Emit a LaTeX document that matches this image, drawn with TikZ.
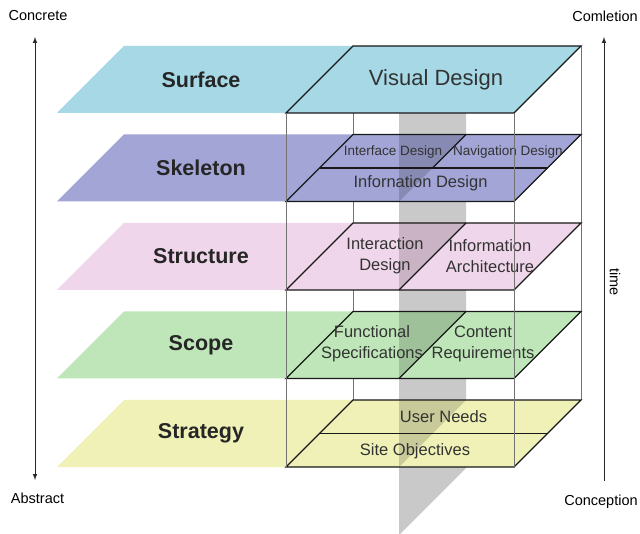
\documentclass[tikz,border=0pt]{standalone}
\usepackage{fontspec}
\setmainfont{Liberation Sans}
\definecolor{surfacecol}{HTML}{A6D8E6}
\definecolor{skeletoncol}{HTML}{A2A5D6}
\definecolor{structurecol}{HTML}{F0D6EA}
\definecolor{scopecol}{HTML}{BEE6B8}
\definecolor{strategycol}{HTML}{EFF1B7}
\definecolor{stripcol}{HTML}{C9C9C9}

\tikzset{
  frame/.style={draw=black!90, line width=1.4pt, line join=miter},
  boxline/.style={draw=black!55, line width=0.8pt},
  shade/.style={fill=black, fill opacity=0.16},
  layername/.style={inner sep=0pt, text=black!85, font=\fontsize{21.5}{24}\selectfont\bfseries},
  big/.style={inner sep=0pt, text=black!80, font=\fontsize{22}{26}\selectfont},
  mid/.style={inner sep=0pt, text=black!80, align=center, font=\fontsize{16.5}{21}\selectfont},
  small/.style={inner sep=0pt, text=black!80, font=\fontsize{13.5}{16}\selectfont},
  side/.style={inner sep=0pt, text=black, font=\fontsize{14.5}{17}\selectfont},
}

\begin{document}
\begin{tikzpicture}[x=1pt,y=-1pt]
\useasboundingbox (0,0) rectangle (640,534);
% strip behind the layers
\fill[stripcol] (399,113) -- (466,113) -- (466,468) -- (400,534) -- (399,534) -- cycle;
% back edges of the box
\path[draw,boxline] (353,113) -- (353,400);
\path[draw,boxline] (581,46) -- (581,400);
\begin{scope}[yshift=-46pt]
\fill[surfacecol] (57,67) -- (124,0) -- (581,0) -- (514,67) -- cycle;
\path[draw,frame] (286,67) -- (353,0) -- (581,0) -- (514,67) -- cycle;
\node[layername] (surface) at (201,33.5) {Surface};
\node[big] (visual) at (436,33.5) {Visual Design};
\end{scope}
\begin{scope}[yshift=-134.5pt]
\fill[skeletoncol] (57,67) -- (124,0) -- (581,0) -- (514,67) -- cycle;
\path[shade] (399,0) -- (466,0) -- (399,67) -- cycle;
\path[draw,frame] (319.5,33.5) -- (547.5,33.5);
\path[draw,frame] (466,0) -- (432.5,33.5);
\path[draw,frame] (286,67) -- (353,0) -- (581,0) -- (514,67) -- cycle;
\node[layername] (skeleton) at (201,33.5) {Skeleton};
\node[small] (interface) at (393,18) {Interface Design};
\node[small] (navigation) at (508,18) {Navigation Design};
\node[mid] (infodesign) at (420.5,49) {Infornation Design};
\end{scope}
\begin{scope}[yshift=-223pt]
\fill[structurecol] (57,67) -- (124,0) -- (581,0) -- (514,67) -- cycle;
\path[shade] (399,0) -- (466,0) -- (399,67) -- cycle;
\path[draw,frame] (466,0) -- (399,67);
\path[draw,frame] (286,67) -- (353,0) -- (581,0) -- (514,67) -- cycle;
\node[layername] (structure) at (201,33.5) {Structure};
\node[mid] (interaction) at (385,33) {Interaction\\Design};
\node[mid] (infoarch) at (490,33) {Information\\Architecture};
\end{scope}
\begin{scope}[yshift=-311.5pt]
\fill[scopecol] (57,67) -- (124,0) -- (581,0) -- (514,67) -- cycle;
\path[shade] (399,0) -- (466,0) -- (399,67) -- cycle;
\path[draw,frame] (466,0) -- (399,67);
\path[draw,frame] (286,67) -- (353,0) -- (581,0) -- (514,67) -- cycle;
\node[layername] (scope) at (201,33.5) {Scope};
\node[mid] (functional) at (372,32.5) {Functional\\Specifications};
\node[mid] (content) at (483,32.5) {Content\\Requirements};
\end{scope}
\begin{scope}[yshift=-400pt]
\fill[strategycol] (57,67) -- (124,0) -- (581,0) -- (514,67) -- cycle;
\path[shade] (399,0) -- (466,0) -- (399,67) -- cycle;
\path[draw,frame] (319.5,33.5) -- (547.5,33.5);
\path[draw,frame] (286,67) -- (353,0) -- (581,0) -- (514,67) -- cycle;
\node[layername] (strategy) at (201,33.5) {Strategy};
\node[mid] (userneeds) at (443.5,17) {User Needs};
\node[mid] (siteobj) at (415,51) {Site Objectives};
\end{scope}
% front edges of the box
\path[draw,boxline] (286,113) -- (286,468);
\path[draw,boxline] (514,113) -- (514,468);
% axes
\node[side] (concrete) at (38,16) {Concrete};
\node[side] (abstract) at (37.5,498) {Abstract};
\node[side] (completion) at (605,16) {Comletion};
\node[side] (conception) at (601,502) {Conception};
\node[side, rotate=-90] (time) at (615,282) {time};
\coordinate (c1) at (35,37);
\coordinate (a1) at (35,480);
\coordinate (c2) at (604,37);
\coordinate (a2) at (604,481);
\path[draw,line width=1pt,black!85,latex-latex] (a1) -- (c1);
\path[draw,line width=1pt,black!85,-latex] (a2) -- (c2);
\end{tikzpicture}
\end{document}
